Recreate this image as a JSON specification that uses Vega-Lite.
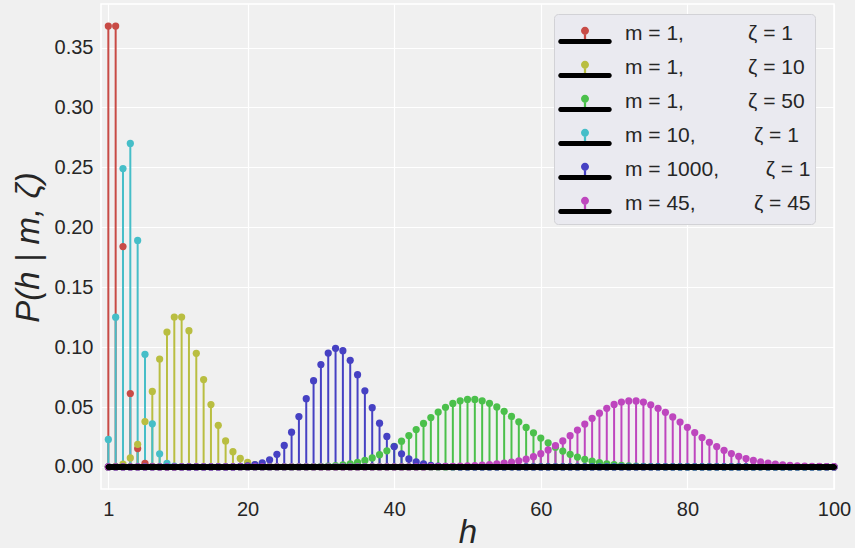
{
  "$schema": "https://vega.github.io/schema/vega-lite/v6.json",
  "width": 733,
  "height": 485,
  "autosize": "none",
  "padding": {"left": 101, "top": 4, "right": 21, "bottom": 59},
  "background": "#f0f0f0",
  "config": {
    "view": {"stroke": "white", "strokeWidth": 1.5, "fill": "#f0f0f0"},
    "font": "Liberation Sans",
    "axis": {
      "gridColor": "white", "gridWidth": 1.2, "gridOpacity": 1,
      "domain": false, "ticks": false, "labelFlush": false,
      "labelFont": "Liberation Sans", "labelFontSize": 20, "labelColor": "#262626",
      "titleFont": "Liberation Sans", "titleFontStyle": "italic", "titleFontWeight": "normal",
      "titleFontSize": 33, "titleColor": "#262626"
    }
  },
  "data": {"values": [
    {"h":1,"a":0.3679,"b":0.00005,"c":0,"d":0.023,"e":0,"f":0},
    {"h":2,"a":0.3679,"b":0.00045,"c":0,"d":0.125,"e":0,"f":0},
    {"h":3,"a":0.1839,"b":0.00227,"c":0,"d":0.249,"e":0,"f":0},
    {"h":4,"a":0.0613,"b":0.00757,"c":0,"d":0.27,"e":0,"f":0},
    {"h":5,"a":0.0153,"b":0.01892,"c":0,"d":0.189,"e":0,"f":0},
    {"h":6,"a":0.0031,"b":0.03783,"c":0,"d":0.094,"e":0,"f":0},
    {"h":7,"a":0.0005,"b":0.06306,"c":0,"d":0.036,"e":0,"f":0},
    {"h":8,"a":0.0001,"b":0.09008,"c":0,"d":0.011,"e":0,"f":0},
    {"h":9,"a":0,"b":0.1126,"c":0,"d":0.003,"e":0,"f":0},
    {"h":10,"a":0,"b":0.12511,"c":0,"d":0.0007,"e":0,"f":0},
    {"h":11,"a":0,"b":0.12511,"c":0,"d":0.0001,"e":0,"f":0},
    {"h":12,"a":0,"b":0.11374,"c":0,"d":0,"e":0,"f":0},
    {"h":13,"a":0,"b":0.09478,"c":0,"d":0,"e":0,"f":0},
    {"h":14,"a":0,"b":0.07291,"c":0,"d":0,"e":0,"f":0},
    {"h":15,"a":0,"b":0.05208,"c":0,"d":0,"e":0,"f":0},
    {"h":16,"a":0,"b":0.03472,"c":0,"d":0,"e":0,"f":0},
    {"h":17,"a":0,"b":0.0217,"c":0,"d":0,"e":0,"f":0},
    {"h":18,"a":0,"b":0.01276,"c":0,"d":0,"e":0,"f":0},
    {"h":19,"a":0,"b":0.00709,"c":0,"d":0,"e":0.0005,"f":0},
    {"h":20,"a":0,"b":0.00373,"c":0,"d":0,"e":0.001,"f":0},
    {"h":21,"a":0,"b":0.00187,"c":0,"d":0,"e":0.002,"f":0},
    {"h":22,"a":0,"b":0.00089,"c":0,"d":0,"e":0.0035,"f":0},
    {"h":23,"a":0,"b":0.0004,"c":0,"d":0,"e":0.006,"f":0},
    {"h":24,"a":0,"b":0.00018,"c":0,"d":0,"e":0.0105,"f":0},
    {"h":25,"a":0,"b":0.00007,"c":0,"d":0,"e":0.018,"f":0},
    {"h":26,"a":0,"b":0.00003,"c":0.00004,"d":0,"e":0.029,"f":0},
    {"h":27,"a":0,"b":0,"c":0.00007,"d":0,"e":0.042,"f":0},
    {"h":28,"a":0,"b":0,"c":0.00013,"d":0,"e":0.057,"f":0},
    {"h":29,"a":0,"b":0,"c":0.00024,"d":0,"e":0.072,"f":0},
    {"h":30,"a":0,"b":0,"c":0.00041,"d":0,"e":0.0855,"f":0},
    {"h":31,"a":0,"b":0,"c":0.00068,"d":0,"e":0.095,"f":0},
    {"h":32,"a":0,"b":0,"c":0.00109,"d":0,"e":0.099,"f":0},
    {"h":33,"a":0,"b":0,"c":0.00171,"d":0,"e":0.097,"f":0},
    {"h":34,"a":0,"b":0,"c":0.00259,"d":0,"e":0.089,"f":0},
    {"h":35,"a":0,"b":0,"c":0.0038,"d":0,"e":0.077,"f":0},
    {"h":36,"a":0,"b":0,"c":0.00543,"d":0,"e":0.0635,"f":0},
    {"h":37,"a":0,"b":0,"c":0.00755,"d":0,"e":0.0495,"f":0},
    {"h":38,"a":0,"b":0,"c":0.0102,"d":0,"e":0.0365,"f":0},
    {"h":39,"a":0,"b":0,"c":0.01342,"d":0,"e":0.0255,"f":0},
    {"h":40,"a":0,"b":0,"c":0.0172,"d":0,"e":0.017,"f":0},
    {"h":41,"a":0,"b":0,"c":0.0215,"d":0,"e":0.011,"f":0},
    {"h":42,"a":0,"b":0,"c":0.02622,"d":0,"e":0.0067,"f":0},
    {"h":43,"a":0,"b":0,"c":0.03121,"d":0,"e":0.0042,"f":0},
    {"h":44,"a":0,"b":0,"c":0.03629,"d":0,"e":0.0025,"f":0},
    {"h":45,"a":0,"b":0,"c":0.04124,"d":0,"e":0.0014,"f":0.0002},
    {"h":46,"a":0,"b":0,"c":0.04583,"d":0,"e":0.0008,"f":0.0003},
    {"h":47,"a":0,"b":0,"c":0.04981,"d":0,"e":0.0004,"f":0.0004},
    {"h":48,"a":0,"b":0,"c":0.05299,"d":0,"e":0.0002,"f":0.0005},
    {"h":49,"a":0,"b":0,"c":0.0552,"d":0,"e":0,"f":0.0007},
    {"h":50,"a":0,"b":0,"c":0.05633,"d":0,"e":0,"f":0.0009},
    {"h":51,"a":0,"b":0,"c":0.05633,"d":0,"e":0,"f":0.0012},
    {"h":52,"a":0,"b":0,"c":0.05522,"d":0,"e":0,"f":0.0015},
    {"h":53,"a":0,"b":0,"c":0.0531,"d":0,"e":0,"f":0.0019},
    {"h":54,"a":0,"b":0,"c":0.05009,"d":0,"e":0,"f":0.0025},
    {"h":55,"a":0,"b":0,"c":0.04638,"d":0,"e":0,"f":0.0032},
    {"h":56,"a":0,"b":0,"c":0.04217,"d":0,"e":0,"f":0.004},
    {"h":57,"a":0,"b":0,"c":0.03765,"d":0,"e":0,"f":0.0051},
    {"h":58,"a":0,"b":0,"c":0.03302,"d":0,"e":0,"f":0.0065},
    {"h":59,"a":0,"b":0,"c":0.02847,"d":0,"e":0,"f":0.0086},
    {"h":60,"a":0,"b":0,"c":0.02413,"d":0,"e":0,"f":0.0111},
    {"h":61,"a":0,"b":0,"c":0.02011,"d":0,"e":0,"f":0.0142},
    {"h":62,"a":0,"b":0,"c":0.01648,"d":0,"e":0,"f":0.0178},
    {"h":63,"a":0,"b":0,"c":0.01329,"d":0,"e":0,"f":0.0217},
    {"h":64,"a":0,"b":0,"c":0.01055,"d":0,"e":0,"f":0.0261},
    {"h":65,"a":0,"b":0,"c":0.00824,"d":0,"e":0,"f":0.0308},
    {"h":66,"a":0,"b":0,"c":0.00634,"d":0,"e":0,"f":0.0358},
    {"h":67,"a":0,"b":0,"c":0.0048,"d":0,"e":0,"f":0.0406},
    {"h":68,"a":0,"b":0,"c":0.00358,"d":0,"e":0,"f":0.0449},
    {"h":69,"a":0,"b":0,"c":0.00264,"d":0,"e":0,"f":0.0489},
    {"h":70,"a":0,"b":0,"c":0.00191,"d":0,"e":0,"f":0.0522},
    {"h":71,"a":0,"b":0,"c":0.00136,"d":0,"e":0,"f":0.0542},
    {"h":72,"a":0,"b":0,"c":0.00096,"d":0,"e":0,"f":0.0551},
    {"h":73,"a":0,"b":0,"c":0.00067,"d":0,"e":0,"f":0.0551},
    {"h":74,"a":0,"b":0,"c":0.00046,"d":0,"e":0,"f":0.0541},
    {"h":75,"a":0,"b":0,"c":0.00031,"d":0,"e":0,"f":0.0518},
    {"h":76,"a":0,"b":0,"c":0.00021,"d":0,"e":0,"f":0.0489},
    {"h":77,"a":0,"b":0,"c":0.00014,"d":0,"e":0,"f":0.0456},
    {"h":78,"a":0,"b":0,"c":0.00009,"d":0,"e":0,"f":0.0417},
    {"h":79,"a":0,"b":0,"c":0.00006,"d":0,"e":0,"f":0.0375},
    {"h":80,"a":0,"b":0,"c":0.00004,"d":0,"e":0,"f":0.0331},
    {"h":81,"a":0,"b":0,"c":0.00002,"d":0,"e":0,"f":0.0287},
    {"h":82,"a":0,"b":0,"c":0,"d":0,"e":0,"f":0.0245},
    {"h":83,"a":0,"b":0,"c":0,"d":0,"e":0,"f":0.0206},
    {"h":84,"a":0,"b":0,"c":0,"d":0,"e":0,"f":0.017},
    {"h":85,"a":0,"b":0,"c":0,"d":0,"e":0,"f":0.0139},
    {"h":86,"a":0,"b":0,"c":0,"d":0,"e":0,"f":0.0112},
    {"h":87,"a":0,"b":0,"c":0,"d":0,"e":0,"f":0.0089},
    {"h":88,"a":0,"b":0,"c":0,"d":0,"e":0,"f":0.007},
    {"h":89,"a":0,"b":0,"c":0,"d":0,"e":0,"f":0.0054},
    {"h":90,"a":0,"b":0,"c":0,"d":0,"e":0,"f":0.0042},
    {"h":91,"a":0,"b":0,"c":0,"d":0,"e":0,"f":0.0032},
    {"h":92,"a":0,"b":0,"c":0,"d":0,"e":0,"f":0.0024},
    {"h":93,"a":0,"b":0,"c":0,"d":0,"e":0,"f":0.0018},
    {"h":94,"a":0,"b":0,"c":0,"d":0,"e":0,"f":0.0013},
    {"h":95,"a":0,"b":0,"c":0,"d":0,"e":0,"f":0.001},
    {"h":96,"a":0,"b":0,"c":0,"d":0,"e":0,"f":0.0007},
    {"h":97,"a":0,"b":0,"c":0,"d":0,"e":0,"f":0.0005},
    {"h":98,"a":0,"b":0,"c":0,"d":0,"e":0,"f":0.0004},
    {"h":99,"a":0,"b":0,"c":0,"d":0,"e":0,"f":0.0003},
    {"h":100,"a":0,"b":0,"c":0,"d":0,"e":0,"f":0.0002}
  ]},
  "transform": [{"fold": ["a", "b", "c", "d", "e", "f"], "as": ["s", "p"]}],
  "layer": [
    {
      "mark": {"type": "rule", "strokeWidth": 2},
      "encoding": {
        "x": {"field": "h", "type": "quantitative", "scale": {"domain": [0, 100], "nice": false, "zero": false},
              "axis": {"values": [1, 20, 40, 60, 80, 100], "labelPadding": 10, "title": "h", "titleX": 366.5, "titleY": 53, "titleBaseline": "alphabetic", "titleAlign": "center"}},
        "y": {"field": "p", "type": "quantitative", "scale": {"domain": [-0.0184, 0.3863], "nice": false, "zero": false},
              "axis": {"values": [0, 0.05, 0.1, 0.15, 0.2, 0.25, 0.3, 0.35], "format": ".2f", "labelPadding": 8, "title": "P(h | m, ζ)", "titleX": -62.7, "titleY": 243, "titleBaseline": "alphabetic", "titleAlign": "center", "titleAngle": 270}},
        "y2": {"datum": 0},
        "stroke": {"field": "s", "type": "nominal", "scale": {"domain": ["f", "e", "d", "c", "b", "a"], "range": ["#be46be", "#4641c3", "#46bec8", "#4bc04b", "#b9be41", "#c84b46"]}, "legend": null}
      }
    },
    {
      "mark": {"type": "point", "filled": true, "size": 52, "opacity": 1, "strokeWidth": 0},
      "encoding": {
        "x": {"field": "h", "type": "quantitative"},
        "y": {"field": "p", "type": "quantitative"},
        "order": [{"field": "s", "type": "nominal"}, {"field": "h", "type": "quantitative"}],
        "color": {
          "field": "s", "type": "nominal",
          "scale": {"domain": ["a", "b", "c", "d", "e", "f"], "range": ["#c84b46", "#b9be41", "#4bc04b", "#46bec8", "#4641c3", "#be46be"]},
          "legend": {
            "orient": "none", "legendX": 453, "legendY": 10, "title": null,
            "symbolType": "M0,-1 M0,1 M-0.25,-0.21 A0.25,0.25 0 1,1 0.25,-0.21 A0.25,0.25 0 1,1 -0.25,-0.21 Z M-0.07,-0.21 L0.07,-0.21 L0.07,0.47 L-0.07,0.47 Z",
            "symbolSize": 1024, "symbolStrokeWidth": 0, "symbolOffset": 11, "symbolOpacity": 1,
            "labelOffset": 24, "labelFontSize": 21, "labelFont": "Liberation Sans", "labelColor": "#262626", "labelLimit": 400,
            "rowPadding": 2, "padding": 4,
            "fillColor": "#eaeaf0", "strokeColor": "#d2d2d6", "cornerRadius": 4,
            "labelExpr": "datum.value == 'a' ? 'm = 1,\u00a0\u00a0\u00a0\u00a0\u00a0\u00a0\u00a0\u00a0\u00a0\u00a0\u00a0ζ = 1' : datum.value == 'b' ? 'm = 1,\u00a0\u00a0\u00a0\u00a0\u00a0\u00a0\u00a0\u00a0\u00a0\u00a0\u00a0ζ = 10' : datum.value == 'c' ? 'm = 1,\u00a0\u00a0\u00a0\u00a0\u00a0\u00a0\u00a0\u00a0\u00a0\u00a0\u00a0ζ = 50' : datum.value == 'd' ? 'm = 10,\u00a0\u00a0\u00a0\u00a0\u00a0\u00a0\u00a0\u00a0\u00a0\u00a0ζ = 1' : datum.value == 'e' ? 'm = 1000,\u00a0\u00a0\u00a0\u00a0\u00a0\u00a0\u00a0\u00a0ζ = 1' : 'm = 45,\u00a0\u00a0\u00a0\u00a0\u00a0\u00a0\u00a0\u00a0\u00a0\u00a0ζ = 45\u00a0'"
          }
        }
      }
    },
    {
      "transform": [{"aggregate": [{"op": "min", "field": "h", "as": "h0"}, {"op": "max", "field": "h", "as": "h1"}], "groupby": ["s"]}],
      "mark": {"type": "rule", "color": "black", "strokeWidth": 5, "strokeCap": "round"},
      "encoding": {
        "x": {"field": "h0", "type": "quantitative", "axis": {"values": [1, 20, 40, 60, 80, 100], "labelPadding": 10, "title": "h", "titleX": 366.5, "titleY": 53, "titleBaseline": "alphabetic", "titleAlign": "center"}},
        "x2": {"field": "h1"},
        "y": {"datum": 0, "type": "quantitative"},
        "opacity": {
          "field": "s", "type": "nominal",
          "scale": {"domain": ["b", "a", "c", "d", "e", "f"], "range": [1, 1, 1, 1, 1, 1]},
          "legend": {
            "orient": "none", "legendX": 453, "legendY": 10, "title": null,
            "symbolType": "M0,-1 M0,1 M-1.53,0.32 L1.53,0.32 A0.156,0.156 0 0,1 1.53,0.63 L-1.53,0.63 A0.156,0.156 0 0,1 -1.53,0.32 Z",
            "symbolSize": 1024, "symbolStrokeWidth": 0, "symbolOffset": 11,
            "symbolFillColor": "black", "symbolStrokeColor": "black", "symbolOpacity": 1,
            "labelOffset": 24, "labelFontSize": 21, "labelExpr": "''",
            "rowPadding": 2, "padding": 4,
            "fillColor": "transparent", "strokeColor": "transparent"
          }
        }
      }
    }
  ]
}
